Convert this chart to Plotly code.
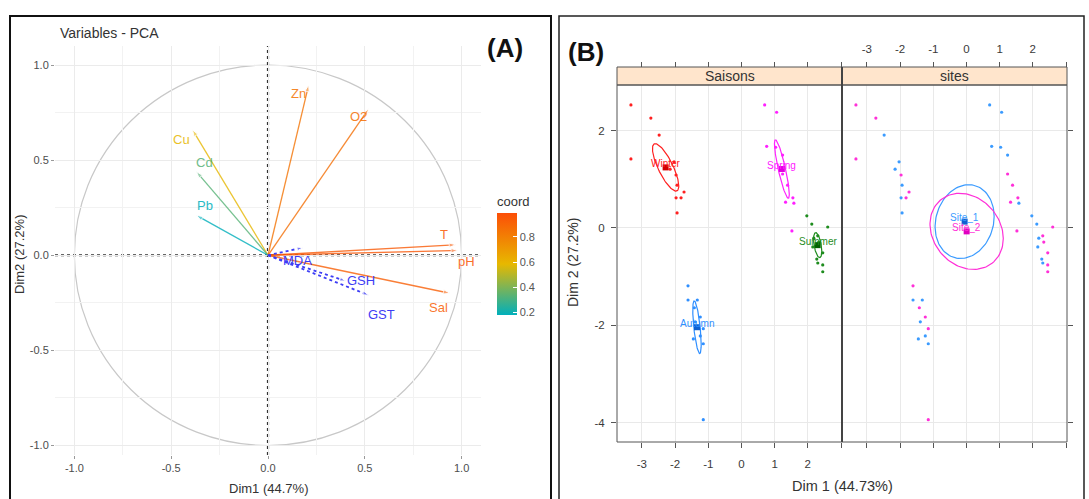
import numpy as np
import plotly.graph_objects as go
from plotly.colors import sample_colorscale

W, H = 1089, 499
FONT = "Liberation Sans"


def px(x):
    return x / W


def py(y):
    return 1 - y / H


# ---------------- Panel A : variables (correlation circle) ----------------
var_names = ["Cu", "Cd", "Pb", "Zn", "O2", "T", "pH", "Sal"]
var_dim1 = [-0.39, -0.37, -0.37, 0.21, 0.52, 0.97, 0.98, 0.94]
var_dim2 = [0.66, 0.44, 0.21, 0.895, 0.77, 0.055, 0.025, -0.20]

sup_names = ["MDA", "GSH", "GST"]
sup_dim1 = [0.18, 0.40, 0.52]
sup_dim2 = [0.04, -0.135, -0.21]

a_ticks = [-1.0, -0.5, 0.0, 0.5, 1.0]
a_ticklabels = ["-1.0", "-0.5", "0.0", "0.5", "1.0"]
coord_ticks = [0.2, 0.4, 0.6, 0.8]
coord_ticklabels = ["0.2", "0.4", "0.6", "0.8"]

# ---------------- Panel B : individuals ----------------
winter_dim1 = [-3.33, -2.73, -2.48, -3.33, -2.03, -2.15, -1.97, -1.94, -1.73, -1.82, -1.97, -1.94]
winter_dim2 = [2.53, 2.26, 1.91, 1.42, 1.36, 1.21, 1.09, 0.88, 0.74, 0.62, 0.62, 0.31]
winter_site = [2, 2, 1, 2, 1, 1, 2, 1, 2, 2, 1, 1]

spring_dim1 = [0.70, 1.06, 0.76, 1.03, 1.24, 1.24, 1.39, 1.55, 1.33, 1.58, 1.52]
spring_dim2 = [2.53, 2.38, 1.68, 1.66, 1.50, 1.11, 0.88, 0.62, 0.53, 0.51, -0.06]
spring_site = [1, 1, 1, 1, 1, 2, 2, 2, 2, 1, 2]

summer_dim1 = [1.97, 2.12, 2.60, 2.18, 2.30, 2.33, 2.15, 2.45, 2.27, 2.30, 2.45, 2.45]
summer_dim2 = [0.25, 0.08, 0.02, -0.21, -0.16, -0.29, -0.39, -0.51, -0.64, -0.72, -0.76, -0.90]
summer_site = [1, 1, 2, 1, 2, 2, 1, 2, 1, 1, 2, 2]

autumn_dim1 = [-1.61, -1.61, -1.33, -1.42, -1.24, -1.39, -1.15, -1.24, -1.45, -1.15, -1.15]
autumn_dim2 = [-1.19, -1.48, -1.48, -1.64, -1.83, -1.93, -2.07, -2.22, -2.28, -2.38, -3.94]
autumn_site = [2, 1, 1, 2, 2, 1, 2, 1, 1, 1, 2]

season_names = ["Winter", "Spring", "Summer", "Autumn"]
site_names = ["Site_1", "Site_2"]
b_xticks = [-3, -2, -1, 0, 1, 2, 3]
b_xticklabels = ["-3", "-2", "-1", "0", "1", "2", ""]
b_yticks = [-4, -2, 0, 2]
b_yticklabels = ["-4", "-2", "0", "2"]

# ---------------- styles ----------------
grad = [[0, "#00AFBB"], [0.5, "#E7B800"], [1, "#FC4E07"]]
CMIN, CMAX = 0.18, 0.99
sup_color = "#3D3DF5"
season_colors = {"Winter": "#FF2020", "Spring": "#FF20FF", "Summer": "#1E8C1E", "Autumn": "#2F8FFF"}
season_dark = {"Winter": "#D00000", "Spring": "#E000E0", "Summer": "#006000", "Autumn": "#1060D0"}
site_colors = {"Site_1": "#3B9BFF", "Site_2": "#FF30D8"}
site_dark = {"Site_1": "#1060D0", "Site_2": "#E000C0"}
lab_shift = {"Cu": (-11, -10), "Cd": (8, 9), "Pb": (9, 10), "Zn": (-10, -8), "O2": (-10, -8),
             "T": (-12, 10), "pH": (9, -11), "Sal": (-12, -14),
             "MDA": (-5, -13), "GSH": (16, 0), "GST": (13, -19)}
CHI2_95_2DF = 5.991

fig = go.Figure()

# ---- Panel A arrows ----
for name, x, y in zip(var_names, var_dim1, var_dim2):
    coord = x * x + y * y
    t = min(max((coord - CMIN) / (CMAX - CMIN), 0), 1)
    col = sample_colorscale(grad, [t])[0]
    fig.add_trace(go.Scatter(
        x=[0, x], y=[0, y], mode="lines+markers", xaxis="x", yaxis="y",
        line=dict(color=col, width=1.3), opacity=0.8,
        marker=dict(symbol="arrow", size=[0, 7], angleref="previous", color=col),
        showlegend=False, hoverinfo="skip"))
    fig.add_annotation(x=x, y=y, xref="x", yref="y", text=name, showarrow=False,
                       xshift=lab_shift[name][0], yshift=lab_shift[name][1],
                       font=dict(family=FONT, size=13, color=col), opacity=0.85)

for name, x, y in zip(sup_names, sup_dim1, sup_dim2):
    fig.add_trace(go.Scatter(
        x=[0, x], y=[0, y], mode="lines+markers", xaxis="x", yaxis="y",
        line=dict(color=sup_color, width=1.8, dash="dot"),
        marker=dict(symbol="arrow", size=[0, 6], angleref="previous", color=sup_color),
        showlegend=False, hoverinfo="skip"))
    fig.add_annotation(x=x, y=y, xref="x", yref="y", text=name, showarrow=False,
                       xshift=lab_shift[name][0], yshift=lab_shift[name][1],
                       font=dict(family=FONT, size=13, color=sup_color))

# colorbar carrier
fig.add_trace(go.Scatter(
    x=[0], y=[0], mode="markers", xaxis="x", yaxis="y", showlegend=False, hoverinfo="skip",
    marker=dict(size=0.1, color=[CMIN], cmin=CMIN, cmax=CMAX, colorscale=grad, showscale=True,
                colorbar=dict(x=px(497), xanchor="left", y=py(315), yanchor="bottom",
                              len=122, lenmode="pixels", thickness=20, thicknessmode="pixels",
                              outlinewidth=0, tickvals=coord_ticks, ticktext=coord_ticklabels,
                              ticks="inside", ticklen=4, tickcolor="white",
                              tickfont=dict(family=FONT, size=11, color="#555555"),
                              title=dict(text="coord", side="top",
                                         font=dict(family=FONT, size=13, color="#333333")),
                              ypad=0, xpad=0))))

# ---- Panel B ----
seasons = {
    "Winter": (winter_dim1, winter_dim2, winter_site),
    "Spring": (spring_dim1, spring_dim2, spring_site),
    "Summer": (summer_dim1, summer_dim2, summer_site),
    "Autumn": (autumn_dim1, autumn_dim2, autumn_site),
}
all_x = np.concatenate([np.array(v[0]) for v in seasons.values()])
all_y = np.concatenate([np.array(v[1]) for v in seasons.values()])
all_site = np.concatenate([np.array(v[2]) for v in seasons.values()])

phi = np.linspace(0, 2 * np.pi, 120)


def ellipse(xs, ys):
    xs, ys = np.asarray(xs), np.asarray(ys)
    n = len(xs)
    m = np.array([xs.mean(), ys.mean()])
    cov = np.cov(np.vstack([xs, ys]))
    L = np.linalg.cholesky(cov)
    k = np.sqrt(CHI2_95_2DF / n)
    pts = m[:, None] + k * L @ np.vstack([np.cos(phi), np.sin(phi)])
    return m, pts


def add_group(xs, ys, col, dark, label, xa, ya):
    m, pts = ellipse(xs, ys)
    fig.add_trace(go.Scatter(x=pts[0], y=pts[1], mode="lines", xaxis=xa, yaxis=ya,
                             line=dict(color=col, width=1.2), showlegend=False, hoverinfo="skip"))
    fig.add_trace(go.Scatter(x=xs, y=ys, mode="markers", xaxis=xa, yaxis=ya,
                             marker=dict(color=col, size=3.2), showlegend=False, hoverinfo="skip"))
    fig.add_trace(go.Scatter(x=[m[0]], y=[m[1]], mode="markers", xaxis=xa, yaxis=ya,
                             marker=dict(color=dark, size=6, symbol="square"),
                             showlegend=False, hoverinfo="skip"))
    fig.add_annotation(x=m[0], y=m[1], xref=xa, yref=ya, text=label, showarrow=False,
                       yshift=4, font=dict(family=FONT, size=10, color=col))


for s in season_names:
    xs, ys, _ = seasons[s]
    add_group(xs, ys, season_colors[s], season_dark[s], s, "x2", "y2")

for i, s in enumerate(site_names):
    mask = all_site == (i + 1)
    add_group(all_x[mask], all_y[mask], site_colors[s], site_dark[s], s, "x3", "y3")

# dummy traces for overlay axes
fig.add_trace(go.Scatter(x=[None], y=[None], xaxis="x4", yaxis="y2", showlegend=False))
fig.add_trace(go.Scatter(x=[None], y=[None], xaxis="x5", yaxis="y3", showlegend=False))
fig.add_trace(go.Scatter(x=[None], y=[None], xaxis="x3", yaxis="y4", showlegend=False))

tickfont = dict(family=FONT, size=11, color="#4D4D4D")
btickfont = dict(family=FONT, size=11.5, color="#3A3A3A")
BX = [-3.75, 3.03]
BY = [-4.40, 2.94]

fig.update_layout(
    width=W, height=H, margin=dict(l=0, r=0, t=0, b=0),
    paper_bgcolor="white", plot_bgcolor="white", showlegend=False,
    font=dict(family=FONT),
    xaxis=dict(domain=[px(55), px(481)], range=[-1.1, 1.1], anchor="y",
               tickvals=a_ticks, ticktext=a_ticklabels, tickfont=tickfont,
               ticks="outside", ticklen=3, tickcolor="#999999",
               showgrid=True, gridcolor="#EBEBEB", gridwidth=1,
               minor=dict(dtick=0.25, tick0=0, showgrid=True, gridcolor="#F2F2F2", gridwidth=1),
               zeroline=False, showline=False, automargin=False),
    yaxis=dict(domain=[py(455), py(46)], range=[-1.05, 1.1], anchor="x",
               tickvals=a_ticks, ticktext=a_ticklabels, tickfont=tickfont,
               ticks="outside", ticklen=3, tickcolor="#999999",
               showgrid=True, gridcolor="#EBEBEB", gridwidth=1,
               minor=dict(dtick=0.25, tick0=0, showgrid=True, gridcolor="#F2F2F2", gridwidth=1),
               zeroline=False, showline=False, automargin=False),
    xaxis2=dict(domain=[px(617), px(842)], range=BX, anchor="y2",
                tickvals=b_xticks, ticktext=b_xticklabels, tickfont=btickfont,
                ticks="outside", ticklen=5, tickcolor="#555555", ticklabelstandoff=6,
                showgrid=True, gridcolor="#E9E9E9", zeroline=False, showline=False, automargin=False),
    yaxis2=dict(domain=[py(442), py(85)], range=BY, anchor="x2",
                tickvals=b_yticks, ticktext=b_yticklabels, tickfont=btickfont,
                ticks="outside", ticklen=5, tickcolor="#555555", ticklabelstandoff=4,
                showgrid=True, gridcolor="#E9E9E9", zeroline=False, showline=False, automargin=False),
    xaxis3=dict(domain=[px(842), px(1067)], range=BX, anchor="y3",
                tickvals=b_xticks, showticklabels=False,
                ticks="outside", ticklen=5, tickcolor="#555555",
                showgrid=True, gridcolor="#E9E9E9", zeroline=False, showline=False, automargin=False),
    yaxis3=dict(domain=[py(442), py(85)], range=BY, anchor="x3",
                tickvals=b_yticks, showticklabels=False, ticks="",
                showgrid=True, gridcolor="#E9E9E9", zeroline=False, showline=False, automargin=False),
    yaxis4=dict(overlaying="y3", side="right", range=BY, anchor="x3",
                tickvals=b_yticks, showticklabels=False, ticks="outside", ticklen=5,
                tickcolor="#555555", showgrid=False, zeroline=False, showline=False),
    xaxis4=dict(overlaying="x2", side="top", anchor="free", position=py(67), range=BX,
                tickvals=b_xticks, showticklabels=False, ticks="outside", ticklen=5,
                tickcolor="#555555", showgrid=False, zeroline=False, showline=False),
    xaxis5=dict(overlaying="x3", side="top", anchor="free", position=py(67), range=BX,
                tickvals=b_xticks, ticktext=b_xticklabels, tickfont=btickfont,
                ticks="outside", ticklen=5, tickcolor="#555555", ticklabelstandoff=4,
                showgrid=False, zeroline=False, showline=False),
)

shapes = []
# Panel A circle and dotted axes
shapes.append(dict(type="circle", xref="x", yref="y", x0=-1, y0=-1, x1=1, y1=1,
                   line=dict(color="#C8C8C8", width=1.2), layer="below"))
shapes.append(dict(type="line", xref="x", yref="y", x0=0, x1=0, y0=-1.05, y1=1.1,
                   line=dict(color="#333333", width=2.2, dash="dot"), layer="below"))
shapes.append(dict(type="line", xref="x", yref="y", x0=-1.1, x1=1.1, y0=0, y1=0,
                   line=dict(color="#333333", width=2.2, dash="dot"), layer="below"))
# Panel frames
shapes.append(dict(type="rect", xref="paper", yref="paper", x0=px(10), x1=px(551),
                   y0=py(530), y1=py(16), line=dict(color="#111111", width=2)))
shapes.append(dict(type="rect", xref="paper", yref="paper", x0=px(559), x1=px(1084),
                   y0=py(530), y1=py(16), line=dict(color="#222222", width=1.5)))
# Lattice strips and boxes
for x0, x1 in [(617, 842), (842, 1067)]:
    shapes.append(dict(type="rect", xref="paper", yref="paper", x0=px(x0), x1=px(x1),
                       y0=py(85), y1=py(67), fillcolor="#FFE5CC",
                       line=dict(color="#555555", width=1)))
    shapes.append(dict(type="rect", xref="paper", yref="paper", x0=px(x0), x1=px(x1),
                       y0=py(442), y1=py(85), line=dict(color="#555555", width=1)))
shapes.append(dict(type="line", xref="paper", yref="paper", x0=px(842), x1=px(842),
                   y0=py(442), y1=py(67), line=dict(color="#444444", width=2)))
fig.update_layout(shapes=shapes)

ann = [
    dict(x=px(58), y=py(33), text="Variables - PCA", xanchor="left",
         font=dict(size=14, color="#333333")),
    dict(x=px(505), y=py(48), text="<b>(A)</b>", font=dict(size=26, color="#111111")),
    dict(x=px(586), y=py(52), text="<b>(B)</b>", font=dict(size=26, color="#111111")),
    dict(x=px(268), y=py(488), text="Dim1 (44.7%)", font=dict(size=13, color="#333333")),
    dict(x=px(20), y=py(255), text="Dim2 (27.2%)", textangle=-90, font=dict(size=13, color="#333333")),
    dict(x=px(842), y=py(486), text="Dim 1 (44.73%)", font=dict(size=14.5, color="#333333")),
    dict(x=px(573), y=py(263), text="Dim 2 (27.2%)", textangle=-90, font=dict(size=14, color="#333333")),
    dict(x=px(729.5), y=py(76), text="Saisons", font=dict(size=14, color="#333333")),
    dict(x=px(954.5), y=py(76), text="sites", font=dict(size=14, color="#333333")),
]
for a in ann:
    a.setdefault("xanchor", "center")
    a.update(xref="paper", yref="paper", showarrow=False, yanchor="middle")
    a["font"]["family"] = FONT
    fig.add_annotation(**a)

fig.write_html("out.html")
